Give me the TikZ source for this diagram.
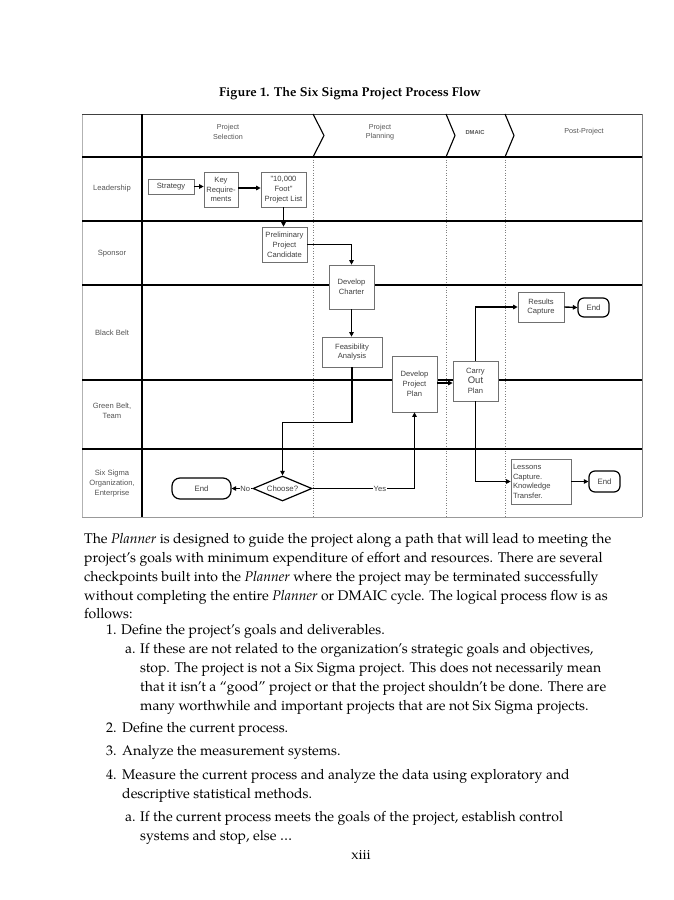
\documentclass[tikz,border=0pt]{standalone}
\usepackage{fontspec}
\setmainfont{TeX Gyre Pagella}
\newfontfamily\arialf{Liberation Sans}
\usetikzlibrary{shapes.geometric,arrows.meta}
\definecolor{boxgray}{HTML}{707070}
\definecolor{dtext}{HTML}{404040}
\definecolor{ltext}{HTML}{555555}
\begin{document}
\begin{tikzpicture}[x=1pt,y=-1pt,
  box/.style={draw=boxgray, line width=0.7pt, fill=white, font=\arialf\fontsize{7.6}{9.8}\selectfont, text=dtext, align=center, inner sep=1pt},
  endbox/.style={draw=black, line width=1.2pt, fill=white, rounded corners=6pt, font=\arialf\fontsize{7.8}{9}\selectfont, text=dtext, inner sep=1pt},
  choice/.style={draw=black, line width=1.2pt, fill=white, diamond, aspect=2.4, inner sep=0.5pt, font=\arialf\fontsize{7.8}{9}\selectfont, text=dtext},
  lane/.style={font=\arialf\fontsize{7.6}{10}\selectfont, text=ltext, align=center},
  hdr/.style={font=\arialf\fontsize{7.2}{9.5}\selectfont, text=ltext, align=center},
  conn/.style={draw=black, line width=1.4pt, -{Triangle[length=4.5pt,width=4.5pt]}},
  grid/.style={draw=black, line width=1.4pt},
  dots/.style={draw=gray, dotted, line width=0.6pt},
  chev/.style={draw=black, line width=1.1pt},
  lbl/.style={font=\arialf\fontsize{7.6}{9}\selectfont, text=dtext, fill=white, inner sep=0.6pt},
  bodyt/.style={anchor=mid west, font=\fontsize{14}{15}\selectfont, inner sep=0pt}
]
\useasboundingbox (0,0) rectangle (674,900);
\fill[white] (0,0) rectangle (674,900);

% title
\node[font=\bfseries\fontsize{12.8}{15}\selectfont] (title) at (350,94) {Figure 1. The Six Sigma Project Process Flow};

% table frame
\draw[draw=gray!60, line width=0.8pt] (82,114) -- (82,517);
\draw[draw=gray!80, line width=0.8pt] (82,517) -- (642,517);
\draw[draw=gray, line width=0.8pt] (642,114) -- (642,517);
\draw[draw=black!75, line width=0.9pt] (82,114) -- (642,114);

% dotted phase lines
\draw[dots] (313,157) -- (313,517);
\draw[dots] (446,157) -- (446,517);
\draw[dots] (505,157) -- (505,517);

% lane separators
\draw[grid] (82,157) -- (642,157);
\draw[grid] (82,221) -- (642,221);
\draw[grid] (82,285) -- (642,285);
\draw[grid] (82,380) -- (642,380);
\draw[grid] (82,449) -- (642,449);
\draw[grid] (142,114) -- (142,517);

% chevrons
\draw[chev] (313,114) -- (324,135.5) -- (313,157);
\draw[chev] (446,114) -- (455,135.5) -- (446,157);
\draw[chev] (505,114) -- (514,135.5) -- (505,157);

% header labels
\node[hdr] (h1) at (228,132) {Project\\Selection};
\node[hdr] (h2) at (380,132) {Project\\Planning};
\node[hdr, font=\arialf\bfseries\fontsize{5.8}{8}\selectfont] (h3) at (475,132) {DMAIC};
\node[hdr] (h4) at (584,132) {Post-Project};

% lane labels
\node[lane] (l1) at (112,189) {Leadership};
\node[lane] (l2) at (112,254) {Sponsor};
\node[lane] (l3) at (112,333) {Black Belt};
\node[lane] (l4) at (112,411) {Green Belt,\\Team};
\node[lane] (l5) at (112,484) {Six Sigma\\Organization,\\Enterprise};

% boxes
\node[box, minimum width=46pt, minimum height=15pt] (strat) at (171,186.5) {Strategy};
\node[box, minimum width=34pt, minimum height=35pt] (keyreq) at (221,189.5) {Key\\Require-\\ments};
\node[box, minimum width=45pt, minimum height=35pt] (foot) at (283.5,189.5) {"10,000\\Foot"\\Project List};
\node[box, minimum width=45pt, minimum height=35pt] (prelim) at (284.5,244.5) {Preliminary\\Project\\Candidate};
\node[box, minimum width=45pt, minimum height=44pt] (charter) at (351.5,287) {Develop\\Charter};
\node[box, minimum width=60pt, minimum height=30pt] (feas) at (352,352) {Feasibility\\Analysis};
\node[box, minimum width=45pt, minimum height=56pt] (devplan) at (414.5,384) {Develop\\Project\\Plan};
\node[box, minimum width=45pt, minimum height=40pt] (carry) at (475.5,381) {Carry\\{\fontsize{9.5}{10}\selectfont Out}\\Plan};
\node[box, minimum width=46pt, minimum height=30pt] (results) at (541,307) {Results\\Capture};
\node[endbox, minimum width=31pt, minimum height=19pt] (end1) at (593.5,307.5) {End};
\node[choice, minimum width=59pt, minimum height=25pt] (choose) at (282.5,488.5) {Choose?};
\node[endbox, minimum width=59pt, minimum height=21pt, rounded corners=8pt] (end2) at (201.5,488.5) {End};
\node[box, align=left, minimum width=60pt, minimum height=45pt, text width=56pt] (lessons) at (541,481.5) {Lessons\\Capture.\\Knowledge\\Transfer.};
\node[endbox, minimum width=31pt, minimum height=21pt] (end3) at (604.5,481.5) {End};

% connectors
\draw[conn] (strat.east) -- (strat.east -| keyreq.west);
\draw[conn] (keyreq.east |- 0,188) -- (foot.west |- 0,188);
\draw[conn] (foot.south) -- (prelim.north -| foot.south);
\draw[conn] (prelim.east) -| (charter.north);
\draw[conn] (charter.south) -- (feas.north -| charter.south);
\draw[conn] (feas.south) -- ++(0,55) -| (choose.north);
\draw[conn] (choose.west) -- (end2.east) node[lbl, pos=0.35] (no) {No};
\draw[conn] (choose.east) -| (devplan.south) node[lbl, pos=0.33] (yes) {Yes};
\draw[conn] (devplan.east |- 0,383) -- (carry.west |- 0,383);
\draw[conn] (carry.north) |- (results.west);
\draw[conn] (results.east) -- (end1.west);
\draw[conn] (carry.south) |- (lessons.west);
\draw[conn] (lessons.east) -- (end3.west);

% body text
\node[bodyt] (t1) at (84,541) {The \emph{Planner} is designed to guide the project along a path that will lead to meeting the};
\node[bodyt] (t2) at (84,560) {project’s goals with minimum expenditure of effort and resources. There are several};
\node[bodyt] (t3) at (84,579) {checkpoints built into the \emph{Planner} where the project may be terminated successfully};
\node[bodyt] (t4) at (84,598) {without completing the entire \emph{Planner} or DMAIC cycle. The logical process flow is as};
\node[bodyt] (t5) at (84,616) {follows:};
\node[bodyt] (n1) at (106,632) {1.};
\node[bodyt] (t6) at (121,632) {Define the project’s goals and deliverables.};
\node[bodyt] (na) at (125,651) {a.};
\node[bodyt] (t7) at (140,651) {If these are not related to the organization’s strategic goals and objectives,};
\node[bodyt] (t8) at (140,670) {stop. The project is not a Six Sigma project. This does not necessarily mean};
\node[bodyt] (t9) at (140,689) {that it isn’t a “good” project or that the project shouldn’t be done. There are};
\node[bodyt] (t10) at (140,708) {many worthwhile and important projects that are not Six Sigma projects.};
\node[bodyt] (n2) at (106,730) {2.};
\node[bodyt] (t11) at (122,730) {Define the current process.};
\node[bodyt] (n3) at (106,753) {3.};
\node[bodyt] (t12) at (122,753) {Analyze the measurement systems.};
\node[bodyt] (n4) at (106,777) {4.};
\node[bodyt] (t13) at (122,777) {Measure the current process and analyze the data using exploratory and};
\node[bodyt] (t14) at (122,796) {descriptive statistical methods.};
\node[bodyt] (nb) at (125,819) {a.};
\node[bodyt] (t15) at (140,819) {If the current process meets the goals of the project, establish control};
\node[bodyt] (t16) at (140,838) {systems and stop, else …};
\node[bodyt, anchor=mid] (pg) at (361,857) {xiii};
\end{tikzpicture}
\end{document}
